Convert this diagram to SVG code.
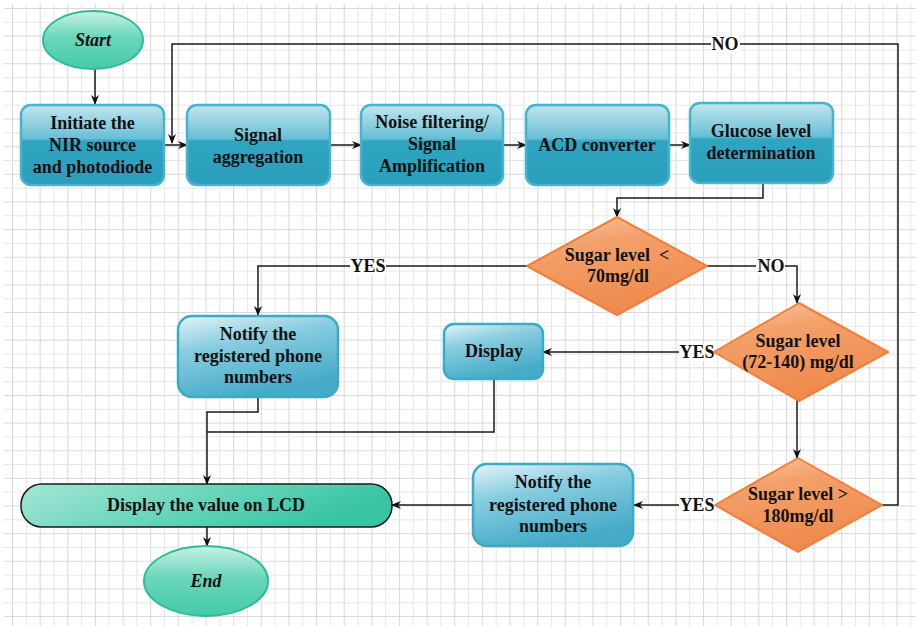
<svg xmlns="http://www.w3.org/2000/svg" width="916" height="626" viewBox="0 0 916 626">
<defs>
<pattern id="grid" x="12" y="8" width="27.64" height="27.64" patternUnits="userSpaceOnUse">
<path d="M0.5 0V27.64M0 0.5H27.64" stroke="#d9d9d9" stroke-width="1.2" fill="none"/>
<path d="M14.32 0V27.64M0 14.32H27.64" stroke="#e6e6e6" stroke-width="1" fill="none"/>
</pattern>
<linearGradient id="gBox" x1="0" y1="0" x2="0" y2="1">
<stop offset="0" stop-color="#c2e6ef"/>
<stop offset="0.42" stop-color="#68bfd5"/>
<stop offset="0.45" stop-color="#2fa5c1"/>
<stop offset="1" stop-color="#2a9fbc"/>
</linearGradient>
<linearGradient id="gLight" x1="0" y1="0" x2="0.4" y2="1">
<stop offset="0" stop-color="#e4f4f8"/>
<stop offset="0.4" stop-color="#88cde0"/>
<stop offset="1" stop-color="#45abc7"/>
</linearGradient>
<linearGradient id="gDia" x1="0" y1="0" x2="0.3" y2="1">
<stop offset="0" stop-color="#f8c6a2"/>
<stop offset="0.35" stop-color="#f3a06a"/>
<stop offset="1" stop-color="#ef8a4c"/>
</linearGradient>
<linearGradient id="gOval" x1="0" y1="0" x2="0" y2="1">
<stop offset="0" stop-color="#c9f1e5"/>
<stop offset="0.45" stop-color="#6ad7bb"/>
<stop offset="1" stop-color="#45c9a8"/>
</linearGradient>
<linearGradient id="gPill" x1="0" y1="0" x2="1" y2="0.3">
<stop offset="0" stop-color="#a5e6d6"/>
<stop offset="0.5" stop-color="#6dd6bd"/>
<stop offset="1" stop-color="#36c4a3"/>
</linearGradient>
<marker id="arr" markerWidth="10" markerHeight="10" refX="9" refY="5" orient="auto" markerUnits="userSpaceOnUse">
<path d="M0,1 L10,5 L0,9 L3,5 z" fill="#111"/>
</marker>
<style>
.t{font-family:"Liberation Serif","Times New Roman",serif;font-weight:bold;font-size:18px;fill:#111;text-anchor:middle}
.ti{font-style:italic}
.box{fill:url(#gBox);stroke:#45b4cf;stroke-width:2.5}
.lbox{fill:url(#gLight);stroke:#3aaac6;stroke-width:2.5}
.dia{fill:url(#gDia);stroke:#f07f3a;stroke-width:2}
.oval{fill:url(#gOval);stroke:#2bbd98;stroke-width:2}
.pill{fill:url(#gPill);stroke:#1a1a1a;stroke-width:1.5}
.c{fill:none;stroke:#1a1a1a;stroke-width:1.5}
.lbl{fill:#fff}
</style>
</defs>
<rect width="916" height="626" fill="#fff"/>
<rect x="4" y="4" width="912" height="622" fill="url(#grid)"/>

<g id="connectors">
<path class="c" d="M95 69V104" marker-end="url(#arr)"/>
<path class="c" d="M164 145H187" marker-end="url(#arr)"/>
<path class="c" d="M330 145H361" marker-end="url(#arr)"/>
<path class="c" d="M503 145H526" marker-end="url(#arr)"/>
<path class="c" d="M669 145H690" marker-end="url(#arr)"/>
<path class="c" d="M763 183V198H617V217" marker-end="url(#arr)"/>
<path class="c" d="M707 266H797V303" marker-end="url(#arr)"/>
<path class="c" d="M527 266H258V315" marker-end="url(#arr)"/>
<path class="c" d="M714 352H543" marker-end="url(#arr)"/>
<path class="c" d="M797 400V458" marker-end="url(#arr)"/>
<path class="c" d="M715 505H634" marker-end="url(#arr)"/>
<path class="c" d="M473 505H392" marker-end="url(#arr)"/>
<path class="c" d="M882 505H898V44H172V143" marker-end="url(#arr)"/>
<path class="c" d="M258 397V412H207V484" marker-end="url(#arr)"/>
<path class="c" d="M494 379V432H207"/>
<path class="c" d="M207 527V546" marker-end="url(#arr)"/>
<rect class="lbl" x="711" y="36" width="29" height="17"/>
<text class="t" x="725" y="50">NO</text>
<rect class="lbl" x="756" y="258" width="29" height="17"/>
<text class="t" x="771" y="272">NO</text>
<rect class="lbl" x="350" y="258" width="36" height="17"/>
<text class="t" x="368" y="272">YES</text>
<rect class="lbl" x="679" y="344" width="36" height="17"/>
<text class="t" x="697" y="358">YES</text>
<rect class="lbl" x="679" y="497" width="36" height="17"/>
<text class="t" x="697" y="511">YES</text>
</g>

<g id="start">
<ellipse class="oval" cx="93" cy="40" rx="50" ry="29"/>
<text class="t ti" x="93" y="46">Start</text>
</g>
<g id="init">
<rect class="box" x="21" y="105" width="143" height="80" rx="10"/>
<text class="t" x="92.5" y="129">Initiate the</text>
<text class="t" x="92.5" y="151">NIR source</text>
<text class="t" x="92.5" y="173">and photodiode</text>
</g>
<g id="aggregation">
<rect class="box" x="187" y="105" width="143" height="80" rx="10"/>
<text class="t" x="258" y="141">Signal</text>
<text class="t" x="258" y="163">aggregation</text>
</g>
<g id="noise">
<rect class="box" x="361" y="105" width="142" height="80" rx="10"/>
<text class="t" x="432" y="128">Noise filtering/</text>
<text class="t" x="432" y="150">Signal</text>
<text class="t" x="432" y="172">Amplification</text>
</g>
<g id="acd">
<rect class="box" x="526" y="105" width="143" height="80" rx="10"/>
<text class="t" x="597" y="151">ACD converter</text>
</g>
<g id="glucose">
<rect class="box" x="690" y="103" width="143" height="80" rx="10"/>
<text class="t" x="761" y="137">Glucose level</text>
<text class="t" x="761" y="159">determination</text>
</g>
<g id="dec1">
<polygon class="dia" points="617,217 707,266 617,315 527,266" stroke-linejoin="round"/>
<text class="t" x="617" y="261" xml:space="preserve">Sugar level  &lt;</text>
<text class="t" x="618" y="282">70mg/dl</text>
</g>
<g id="dec2">
<polygon class="dia" points="799,303 888,352 799,401 714,352" stroke-linejoin="round"/>
<text class="t" x="798" y="347">Sugar level</text>
<text class="t" x="798" y="368">(72-140) mg/dl</text>
</g>
<g id="dec3">
<polygon class="dia" points="798,458 882,505 798,552 715,505" stroke-linejoin="round"/>
<text class="t" x="798" y="500">Sugar level &gt;</text>
<text class="t" x="798" y="522">180mg/dl</text>
</g>
<g id="notify1">
<rect class="lbox" x="178" y="316" width="160" height="81" rx="14"/>
<text class="t" x="258" y="340">Notify the</text>
<text class="t" x="258" y="362">registered phone</text>
<text class="t" x="258" y="383">numbers</text>
</g>
<g id="display">
<rect class="lbox" x="444" y="324" width="99" height="55" rx="10"/>
<text class="t" x="494" y="357">Display</text>
</g>
<g id="notify2">
<rect class="lbox" x="473" y="464" width="160" height="82" rx="14"/>
<text class="t" x="553" y="488">Notify the</text>
<text class="t" x="553" y="511">registered phone</text>
<text class="t" x="553" y="532">numbers</text>
</g>
<g id="lcd">
<rect class="pill" x="21" y="484" width="371" height="43" rx="21"/>
<text class="t" x="206" y="511">Display the value on LCD</text>
</g>
<g id="end">
<ellipse class="oval" cx="206" cy="581" rx="62" ry="35"/>
<text class="t ti" x="206" y="587">End</text>
</g>
</svg>
